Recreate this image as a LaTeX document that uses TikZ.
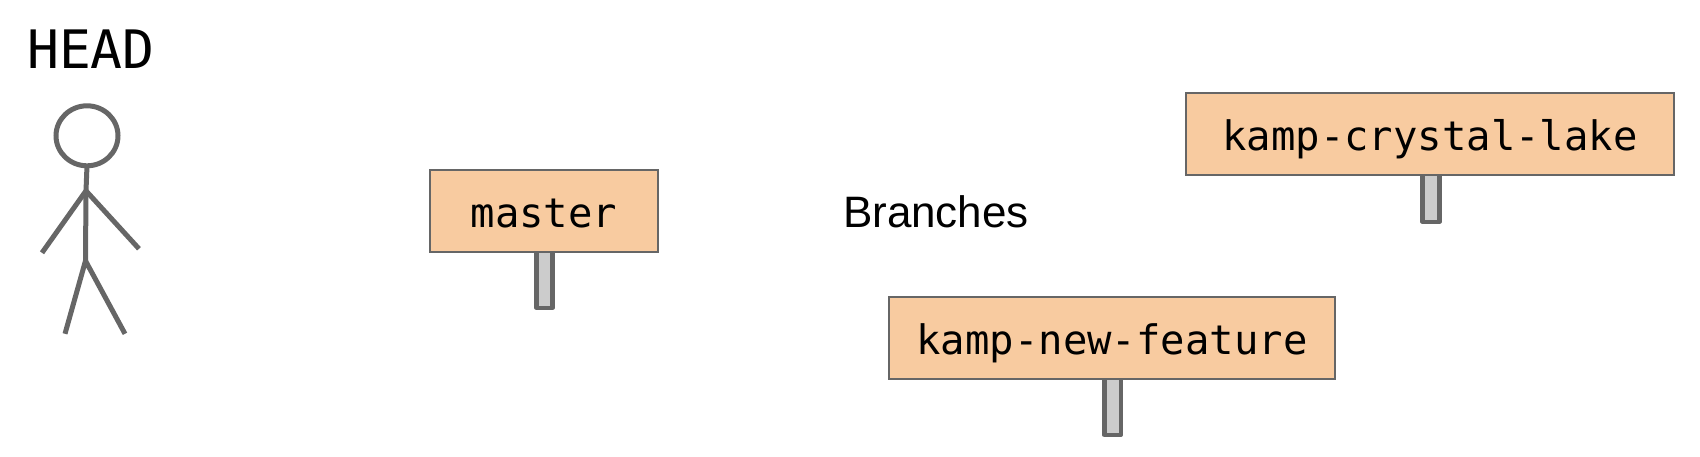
\documentclass[tikz,border=0pt]{standalone}
\usepackage{fontspec}
\setmainfont{Liberation Sans}
\newfontfamily\signfont{DejaVu Sans Mono}
\tikzset{
  x=1pt,y=-1pt,
  sign/.style={draw=figgray,fill=signfill,line width=2.2pt,inner sep=0pt,minimum height=82pt,text height=58pt,text depth=24pt,font=\signfont\fontsize{40.6}{48}\selectfont,text=black},
  signpost/.style={draw=figgray,fill=postfill,line width=4.6pt,line join=round},
  figure/.style={draw=figgray,line width=5pt},
  caption/.style={inner sep=0pt,anchor=base,text=black}
}
\definecolor{figgray}{HTML}{666666}
\definecolor{signfill}{HTML}{F8CBA0}
\definecolor{postfill}{HTML}{CCCCCC}
\begin{document}
\begin{tikzpicture}
\useasboundingbox (0,0) rectangle (1700,456);
\begin{scope}[yshift=-0.8pt]
\node[caption,font=\signfont\fontsize{53}{60}\selectfont] (head) at (91,67.5) {HEAD};
\draw[figure] (87,135) ellipse [x radius=31,y radius=30];
\coordinate (neck) at (87,165);
\coordinate (shoulder) at (86,190);
\coordinate (hip) at (85.5,260);
\draw[figure] (neck) -- (shoulder) -- (hip);
\draw[figure] (42,252) -- (shoulder) -- (139,248);
\draw[figure] (65,333) -- (hip) -- (125,333);
\draw[signpost] (536.4,245) rectangle (552.6,307);
\draw[signpost] (1422.7,168) rectangle (1439.3,221);
\draw[signpost] (1104.2,372) rectangle (1120.8,434);
\node[sign,minimum width=228pt] (master) at (544,210) {master};
\node[sign,minimum width=488pt] (crystal) at (1430,133) {kamp-crystal-lake};
\node[sign,minimum width=446pt] (feature) at (1112,337) {kamp-new-feature};
\node[caption,font=\fontsize{44}{50}\selectfont] (branches) at (936,226.5) {Branches};
\end{scope}
\end{tikzpicture}
\end{document}
